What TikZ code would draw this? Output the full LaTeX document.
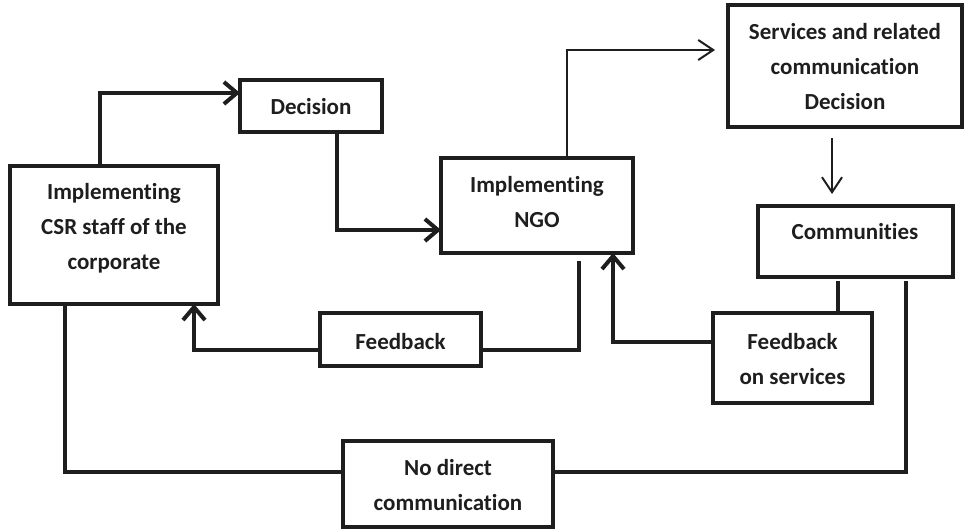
\documentclass[tikz,border=0pt]{standalone}
\usepackage{fontspec}
\setmainfont{Carlito}[Ligatures={NoCommon}, RawFeature={-liga;-clig;-dlig}]
\usetikzlibrary{arrows.meta}
\definecolor{ink}{HTML}{1E1E1E}
\tikzset{
  box/.style={draw=ink, line width=3.5pt, inner sep=0pt, outer sep=0pt},
  lbl/.style={font=\fontsize{23}{35}\selectfont\bfseries, text=ink, align=center, inner sep=0pt},
  heavy/.style={draw=ink, line width=4pt},
  light/.style={draw=ink, line width=2pt},
  bigtip/.style={-{Straight Barb[length=13pt,width=22pt,line width=4pt]}},
  smalltip/.style={-{Straight Barb[length=15pt,width=20pt,line width=2pt]}},
}
\begin{document}
\begin{tikzpicture}[x=1pt,y=-1pt]
\useasboundingbox (0,0) rectangle (964,529);
% boxes
\node[box, minimum width=142pt, minimum height=52pt]  (dec) at (311,106) {};
\node[box, minimum width=208pt, minimum height=138pt] (csr) at (114,235) {};
\node[box, minimum width=192pt, minimum height=95pt]  (ngo) at (537,205.5) {};
\node[box, minimum width=234pt, minimum height=122pt] (srv) at (845,66) {};
\node[box, minimum width=195pt, minimum height=71pt]  (com) at (855.5,241.5) {};
\node[box, minimum width=161pt, minimum height=53pt]  (fb)  at (400.5,339.5) {};
\node[box, minimum width=159pt, minimum height=90pt]  (fbs) at (792.5,358) {};
\node[box, minimum width=210pt, minimum height=86pt]  (nd)  at (448,484) {};
% labels
\node[lbl] (decT) at (311,107) {Decision};
\node[lbl] (csrT) at (114,228) {Implementing\\CSR staff of the\\corporate};
\node[lbl] (ngoT) at (537,202) {Implementing\\NGO};
\node[lbl] (srvT) at (845,67) {Services and related\\communication\\Decision};
\node[lbl] (comT) at (855,232) {Communities};
\node[lbl] (fbT)  at (400.5,342) {Feedback};
\node[lbl] (fbsT) at (792.5,359) {Feedback\\on services};
\node[lbl] (ndT)  at (448,485) {No direct\\communication};
% bend coordinates
\coordinate (b1) at (100,93);
\coordinate (b2) at (337,230);
\coordinate (b3) at (567,50);
\coordinate (b4) at (832,0);
\coordinate (b5) at (579,350);
\coordinate (b6) at (194,350);
\coordinate (b7) at (838,0);
\coordinate (b8) at (613,342);
\coordinate (b9) at (65,472);
\coordinate (b10) at (906,472);
% connectors
\draw[heavy, bigtip] (csr.north -| b1) |- (dec.west |- b1);
\draw[heavy, bigtip] (dec.south -| b2) |- (ngo.west |- b2);
\draw[light, smalltip, shorten >=13pt] (ngo.north -| b3) |- (srv.west |- b3);
\draw[light, smalltip, shorten <=11pt, shorten >=12pt] (srv.south -| b4) -- (com.north -| b4);
\draw[heavy, shorten <=8pt] (ngo.south -| b5) |- (fb.east |- b5);
\draw[heavy, bigtip] (fb.west |- b6) -| (csr.south -| b6);
\draw[heavy, shorten <=4pt] (com.south -| b7) -- (fbs.north -| b7);
\draw[heavy, bigtip] (fbs.west |- b8) -| (ngo.south -| b8);
\draw[heavy] (csr.south -| b9) |- (nd.west |- b9);
\draw[heavy, shorten >=4pt] (nd.east |- b10) -| (com.south -| b10);
\end{tikzpicture}
\end{document}
